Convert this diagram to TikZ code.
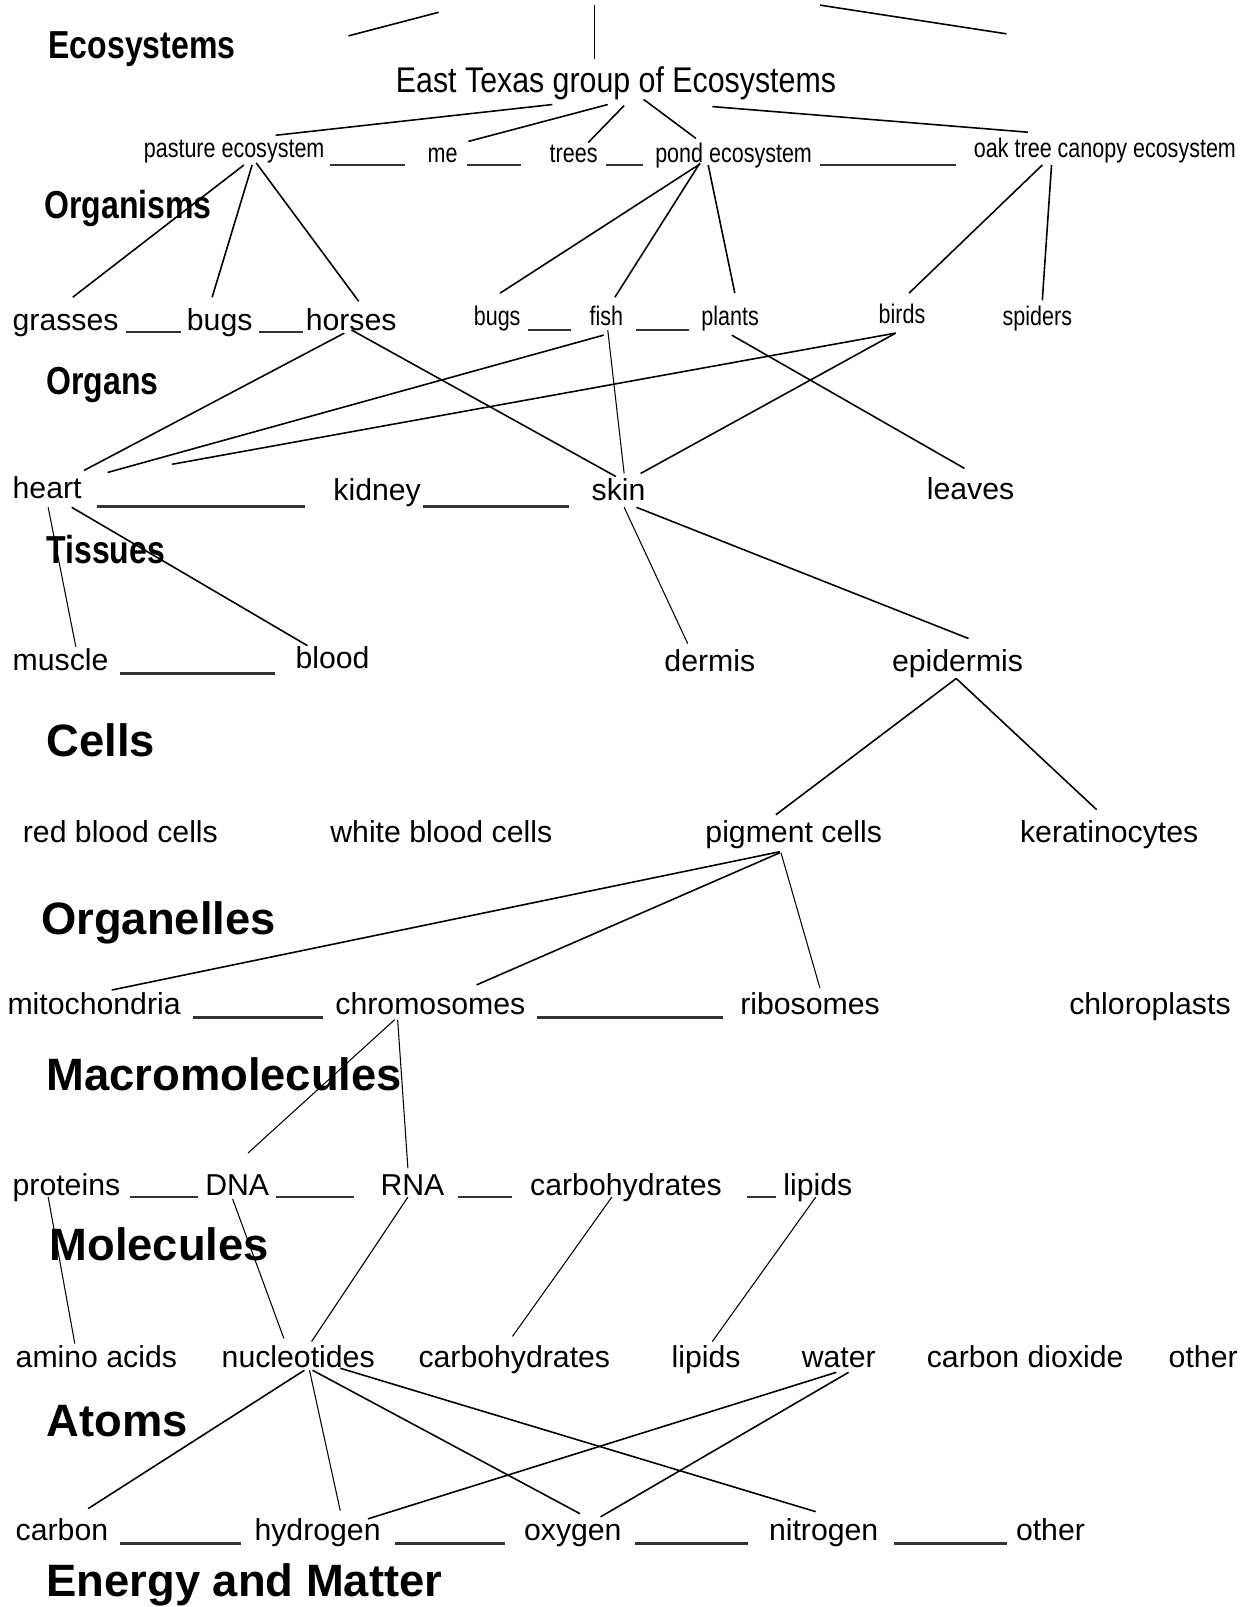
\documentclass[tikz,border=0pt]{standalone}
\usepackage{fontspec}
\setmainfont{Liberation Sans}
\newfontfamily\narrowfont[FakeStretch=0.8]{Liberation Sans}
\newfontfamily\groupfont[FakeStretch=0.85]{Liberation Sans}
\newfontfamily\headfont[FakeStretch=0.82]{Liberation Sans}
\usetikzlibrary{calc}

\begin{document}
\begin{tikzpicture}[x=0.2049mm, y=-0.2049mm,
  every node/.style={anchor=base west, inner sep=0pt},
  headbold/.style={font=\fontsize{25.8}{30}\selectfont\bfseries},
  headnarrow/.style={font=\headfont\fontsize{22.2}{26}\selectfont\bfseries},
  entry/.style={font=\fontsize{17.2}{20}\selectfont},
  smallentry/.style={font=\narrowfont\fontsize{15.3}{18}\selectfont},
  link/.style={line width=0.9pt},
  thinlink/.style={line width=0.6pt},
  blankline/.style={line width=1.4pt, black!80}]
\useasboundingbox[fill=white] (0,0) rectangle (1217,1568);

% Top of the tree (title lies above the page)
\coordinate (title) at (600,-20);
\coordinate (leftgroup) at (340,35);
\coordinate (rightgroup) at (982,33);
\node[headnarrow] (ecosystems) at (47,57) {Ecosystems};
\node[font=\groupfont\fontsize{20.3}{24}\selectfont] (east) at (386,90) {East Texas group of Ecosystems};
\draw[link] ($(title)+(-172,32)$) -- (leftgroup);
\draw[thinlink] ($(title)+(-20,25)$) -- ($(east.base west)+(194,-32)$);
\draw[link] ($(title)+(200,25)$) -- (rightgroup);

% Ecosystems
\node[smallentry] (pasture) at (140,154) {pasture ecosystem};
\node[smallentry] (me) at (417,159) {me};
\node[smallentry] (trees) at (536,159) {trees};
\node[smallentry] (pond) at (639,159) {pond ecosystem};
\node[smallentry] (oak) at (950,154) {oak tree canopy ecosystem};
\draw[blankline] ($(pasture.base west)+(182,7)$) -- ($(me.base west)+(-22,2)$);
\draw[blankline] ($(me.base west)+(39,2)$) -- ($(trees.base west)+(-28,2)$);
\draw[blankline] ($(trees.base west)+(55,2)$) -- ($(pond.base west)+(-12,2)$);
\draw[blankline] ($(pond.base west)+(161,2)$) -- ($(oak.base west)+(-17,7)$);
\draw[link] ($(east.base west)+(153,12)$) -- ($(pasture.base west)+(129,-22)$);
\draw[link] ($(east.base west)+(207,12)$) -- ($(me.base west)+(40,-21)$);
\draw[link] ($(east.base west)+(223,13)$) -- ($(trees.base west)+(38,-20)$);
\draw[link] ($(east.base west)+(242,7)$) -- ($(pond.base west)+(40,-24)$);
\draw[link] ($(east.base west)+(309,14)$) -- ($(oak.base west)+(53,-25)$);

% Organisms
\node[headnarrow] (organisms) at (43,213) {Organisms};
\node[entry] (grasses) at (12,322) {grasses};
\node[entry] (bugsA) at (182,322) {bugs};
\node[entry] (horses) at (298,322) {horses};
\node[smallentry] (bugsB) at (462,318) {bugs};
\node[smallentry] (fish) at (575,318) {fish};
\node[smallentry] (plants) at (684,318) {plants};
\node[smallentry] (birds) at (857,316) {birds};
\node[smallentry] (spiders) at (978,318) {spiders};
\draw[blankline] ($(grasses.base west)+(111,2)$) -- ($(bugsA.base west)+(-5,2)$);
\draw[blankline] ($(bugsA.base west)+(71,2)$) -- ($(horses.base west)+(-2,2)$);
\draw[blankline] ($(bugsB.base west)+(53,4)$) -- ($(fish.base west)+(-18,4)$);
\draw[blankline] ($(fish.base west)+(46,4)$) -- ($(plants.base west)+(-12,4)$);
\draw[link] ($(pasture.base west)+(98,7)$) -- ($(grasses.base west)+(59,-32)$);
\draw[link] ($(pasture.base west)+(106,7)$) -- ($(bugsA.base west)+(25,-32)$);
\draw[link] ($(pasture.base west)+(110,5)$) -- ($(horses.base west)+(52,-28)$);
\draw[link] ($(pond.base west)+(44,1)$) -- ($(bugsB.base west)+(26,-32)$);
\draw[link] ($(pond.base west)+(44,0)$) -- ($(fish.base west)+(25,-28)$);
\draw[link] ($(pond.base west)+(52,2)$) -- ($(plants.base west)+(33,-32)$);
\draw[link] ($(oak.base west)+(67,7)$) -- ($(birds.base west)+(30,-30)$);
\draw[link] ($(oak.base west)+(76,7)$) -- ($(spiders.base west)+(39,-25)$);

% Organs
\node[headnarrow] (organs) at (45,385) {Organs};
\node[entry] (heart) at (12,486) {heart};
\node[entry] (kidney) at (325,488) {kidney};
\node[entry] (skin) at (577,488) {skin};
\node[entry] (leaves) at (904,487) {leaves};
\draw[blankline] ($(heart.base west)+(83,8)$) -- ($(kidney.base west)+(-27,6)$);
\draw[blankline] ($(kidney.base west)+(88,6)$) -- ($(skin.base west)+(-22,6)$);
\draw[link] ($(horses.base west)+(38,3)$) -- ($(heart.base west)+(70,-27)$);
\draw[link] ($(horses.base west)+(45,0)$) -- ($(skin.base west)+(24,-23)$);
\draw[link] ($(fish.base west)+(14,9)$) -- ($(heart.base west)+(93,-25)$);
\draw[thinlink] ($(fish.base west)+(18,4)$) -- ($(skin.base west)+(32,-26)$);
\draw[link] ($(birds.base west)+(17,9)$) -- ($(heart.base west)+(156,-33)$);
\draw[link] ($(birds.base west)+(17,9)$) -- ($(skin.base west)+(48,-26)$);
\draw[link] ($(plants.base west)+(30,9)$) -- ($(leaves.base west)+(37,-30)$);

% Tissues
\node[headnarrow] (tissues) at (45,550) {Tissues};
\node[entry] (muscle) at (12,654) {muscle};
\node[entry] (blood) at (288,652) {blood};
\node[entry] (dermis) at (648,655) {dermis};
\node[entry] (epidermis) at (870,655) {epidermis};
\draw[blankline] ($(muscle.base west)+(105,3)$) -- ($(blood.base west)+(-20,5)$);
\draw[thinlink] ($(heart.base west)+(35,9)$) -- ($(muscle.base west)+(62,-23)$);
\draw[link] ($(heart.base west)+(58,9)$) -- ($(blood.base west)+(12,-22)$);
\draw[thinlink] ($(skin.base west)+(32,7)$) -- ($(dermis.base west)+(23,-27)$);
\draw[link] ($(skin.base west)+(44,7)$) -- ($(epidermis.base west)+(75,-32)$);

% Cells
\node[headbold] (cells) at (45,738) {Cells};
\node[entry] (redcells) at (22,822) {red blood cells};
\node[entry] (whitecells) at (322,822) {white blood cells};
\node[entry] (pigment) at (688,822) {pigment cells};
\node[entry] (kerat) at (995,822) {keratinocytes};
\draw[link] ($(epidermis.base west)+(63,7)$) -- ($(pigment.base west)+(69,-27)$);
\draw[link] ($(epidermis.base west)+(63,7)$) -- ($(kerat.base west)+(75,-32)$);

% Organelles
\node[headbold] (organelles) at (40,912) {Organelles};
\node[entry] (mito) at (7,990) {mitochondria};
\node[entry] (chromo) at (327,990) {chromosomes};
\node[entry] (ribo) at (722,990) {ribosomes};
\node[entry] (chloro) at (1043,990) {chloroplasts};
\draw[blankline] ($(mito.base west)+(181,3)$) -- ($(chromo.base west)+(-12,3)$);
\draw[blankline] ($(chromo.base west)+(197,3)$) -- ($(ribo.base west)+(-17,3)$);
\draw[link] ($(pigment.base west)+(73,9)$) -- ($(mito.base west)+(102,-24)$);
\draw[link] ($(pigment.base west)+(73,10)$) -- ($(chromo.base west)+(138,-29)$);
\draw[thinlink] ($(pigment.base west)+(74,10)$) -- ($(ribo.base west)+(78,-26)$);

% Macromolecules
\node[headbold] (macro) at (45,1064) {Macromolecules};
\node[entry] (proteins) at (12,1166) {proteins};
\node[entry] (dna) at (200,1166) {DNA};
\node[entry] (rna) at (371,1166) {RNA};
\node[entry] (carbo) at (517,1166) {carbohydrates};
\node[entry] (lipids) at (764,1166) {lipids};
\draw[blankline] ($(proteins.base west)+(115,2)$) -- ($(dna.base west)+(-7,2)$);
\draw[blankline] ($(dna.base west)+(69,2)$) -- ($(rna.base west)+(-26,2)$);
\draw[blankline] ($(rna.base west)+(76,2)$) -- ($(carbo.base west)+(-17,2)$);
\draw[blankline] ($(carbo.base west)+(212,2)$) -- ($(lipids.base west)+(-7,2)$);
\draw[thinlink] ($(chromo.base west)+(58,5)$) -- ($(dna.base west)+(42,-41)$);
\draw[thinlink] ($(chromo.base west)+(61,5)$) -- ($(rna.base west)+(27,-26)$);

% Molecules
\node[headbold] (molecules) at (48,1230) {Molecules};
\node[entry] (amino) at (15,1334) {amino acids};
\node[entry] (nucleo) at (216,1334) {nucleotides};
\node[entry] (carbomol) at (408,1334) {carbohydrates};
\node[entry] (lipidmol) at (655,1334) {lipids};
\node[entry] (water) at (782,1334) {water};
\node[entry] (co2) at (904,1334) {carbon dioxide};
\node[entry] (othermol) at (1140,1334) {other};
\draw[thinlink] ($(proteins.base west)+(35,2)$) -- ($(amino.base west)+(58,-23)$);
\draw[thinlink] ($(dna.base west)+(27,4)$) -- ($(nucleo.base west)+(61,-28)$);
\draw[thinlink] ($(rna.base west)+(27,2)$) -- ($(nucleo.base west)+(88,-25)$);
\draw[thinlink] ($(carbo.base west)+(80,2)$) -- ($(carbomol.base west)+(92,-30)$);
\draw[thinlink] ($(lipids.base west)+(32,2)$) -- ($(lipidmol.base west)+(40,-25)$);

% Atoms
\node[headbold] (atoms) at (45,1402) {Atoms};
\node[entry] (carbon) at (15,1503) {carbon};
\node[entry] (hydrogen) at (248,1503) {hydrogen};
\node[entry] (oxygen) at (511,1503) {oxygen};
\node[entry] (nitrogen) at (750,1503) {nitrogen};
\node[entry] (otheratom) at (991,1503) {other};
\draw[blankline] ($(carbon.base west)+(102,3)$) -- ($(hydrogen.base west)+(-13,3)$);
\draw[blankline] ($(hydrogen.base west)+(137,3)$) -- ($(oxygen.base west)+(-18,3)$);
\draw[blankline] ($(oxygen.base west)+(109,3)$) -- ($(nitrogen.base west)+(-20,3)$);
\draw[blankline] ($(nitrogen.base west)+(122,3)$) -- ($(otheratom.base west)+(-8,3)$);
\draw[link] ($(nucleo.base west)+(81,3)$) -- ($(carbon.base west)+(71,-31)$);
\draw[thinlink] ($(nucleo.base west)+(86,3)$) -- ($(hydrogen.base west)+(84,-29)$);
\draw[link] ($(nucleo.base west)+(89,3)$) -- ($(oxygen.base west)+(55,-26)$);
\draw[link] ($(nucleo.base west)+(116,1)$) -- ($(nitrogen.base west)+(46,-28)$);
\draw[link] ($(water.base west)+(34,5)$) -- ($(hydrogen.base west)+(111,-21)$);
\draw[link] ($(water.base west)+(46,5)$) -- ($(oxygen.base west)+(75,-23)$);

% Energy and Matter
\node[headbold] (energy) at (45,1558) {Energy and Matter};
\end{tikzpicture}
\end{document}
